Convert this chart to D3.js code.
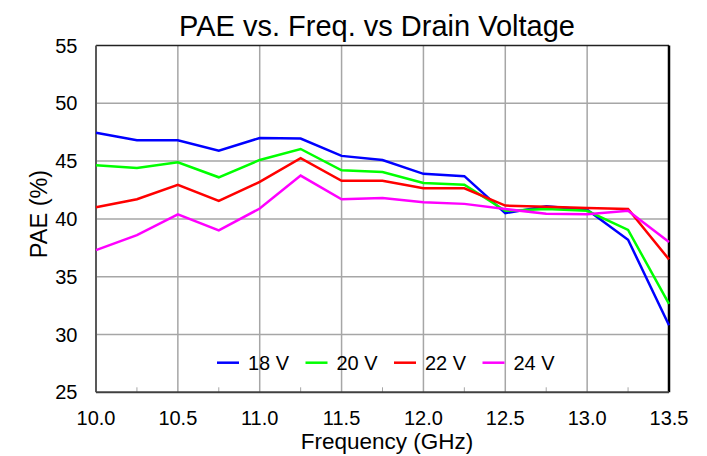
<!DOCTYPE html>
<html lang="en">
<head>
    <meta charset="UTF-8">
    <script src="https://cdn.jsdelivr.net/npm/d3@7"></script>
    <title>PAE vs Freq</title>
    <style>
        body { margin: 0; background: #fff; }
        text { font-family: "Liberation Sans", Arial, sans-serif; fill: #000; }
    </style>
</head>
<body>
<script>
let width = 707
let height = 456
let margin = {top: 45.5, right: 38, bottom: 63.7, left: 96}

// data
let freq = [10.0, 10.25, 10.5, 10.75, 11.0, 11.25, 11.5, 11.75, 12.0, 12.25, 12.5, 12.75, 13.0, 13.25, 13.5]
let v18 = [47.45, 46.8, 46.8, 45.9, 47.0, 46.95, 45.45, 45.1, 43.9, 43.7, 40.5, 41.1, 40.8, 38.2, 30.8]
let v20 = [44.65, 44.4, 44.9, 43.6, 45.1, 46.05, 44.2, 44.05, 43.1, 42.95, 40.7, 40.85, 40.7, 39.05, 32.65]
let v22 = [41.0, 41.7, 42.95, 41.55, 43.2, 45.25, 43.3, 43.3, 42.65, 42.65, 41.15, 41.05, 40.95, 40.85, 36.5]
let v24 = [37.3, 38.6, 40.4, 39.0, 40.9, 43.75, 41.7, 41.8, 41.45, 41.3, 40.85, 40.45, 40.4, 40.7, 38.0]
let seriesNames = ["18 V", "20 V", "22 V", "24 V"]
let seriesColors = ["#0000ff", "#00ff00", "#ff0000", "#ff00ff"]
let xTicks = [10.0, 10.5, 11.0, 11.5, 12.0, 12.5, 13.0, 13.5]
let xMinor = [10.25, 10.75, 11.25, 11.75, 12.25, 12.75, 13.25]
let yTicks = [25, 30, 35, 40, 45, 50, 55]

let series = [v18, v20, v22, v24]

let svg = d3.select("body").append("svg")
    .attr("width", width)
    .attr("height", height)

let x = d3.scaleLinear().domain([10, 13.5]).range([margin.left, width - margin.right])
let y = d3.scaleLinear().domain([25, 55]).range([height - margin.bottom, margin.top])

// grid
svg.append("g").selectAll("line").data(yTicks.slice(1, -1)).join("line")
    .attr("x1", x(10)).attr("x2", x(13.5))
    .attr("y1", d => y(d)).attr("y2", d => y(d))
    .attr("stroke", "#a6a6a6").attr("stroke-width", 1.5)
svg.append("g").selectAll("line").data(xTicks.slice(1, -1)).join("line")
    .attr("y1", y(25)).attr("y2", y(55))
    .attr("x1", d => x(d)).attr("x2", d => x(d))
    .attr("stroke", "#a6a6a6").attr("stroke-width", 1.5)

// minor ticks on bottom axis
svg.append("g").selectAll("line").data(xMinor).join("line")
    .attr("y1", y(25)).attr("y2", y(25) - 5)
    .attr("x1", d => x(d)).attr("x2", d => x(d))
    .attr("stroke", "#a6a6a6").attr("stroke-width", 1)

// frame
svg.append("line").attr("x1", x(10)).attr("x2", x(13.5)).attr("y1", y(55)).attr("y2", y(55))
    .attr("stroke", "#222").attr("stroke-width", 1.5)
svg.append("line").attr("x1", x(13.5)).attr("x2", x(13.5)).attr("y1", y(55)).attr("y2", y(25))
    .attr("stroke", "#000").attr("stroke-width", 2.5)
svg.append("line").attr("x1", x(10)).attr("x2", x(10)).attr("y1", y(55)).attr("y2", y(25))
    .attr("stroke", "#595959").attr("stroke-width", 2)
svg.append("line").attr("x1", x(10)).attr("x2", x(13.5)).attr("y1", y(25)).attr("y2", y(25))
    .attr("stroke", "#404040").attr("stroke-width", 2)

// lines
let line = d3.line().x((d, i) => x(freq[i])).y(d => y(d))
svg.append("g").selectAll("path").data(series).join("path")
    .attr("d", line)
    .attr("fill", "none")
    .attr("stroke", (d, i) => seriesColors[i])
    .attr("stroke-width", 2.5)
    .attr("stroke-linejoin", "miter")

// tick labels
svg.append("g").selectAll("text").data(yTicks).join("text")
    .attr("x", 77.5).attr("y", d => y(d))
    .attr("dy", "0.35em")
    .attr("text-anchor", "end")
    .attr("font-size", 20)
    .text(d => d)
svg.append("g").selectAll("text").data(xTicks).join("text")
    .attr("x", d => x(d)).attr("y", 417.5)
    .attr("dy", "0.35em")
    .attr("text-anchor", "middle")
    .attr("font-size", 20)
    .text(d => d.toFixed(1))

// axis titles
svg.append("text")
    .attr("x", 387).attr("y", 441.5)
    .attr("dy", "0.35em")
    .attr("text-anchor", "middle")
    .attr("font-size", 22.5)
    .text("Frequency (GHz)")
svg.append("text")
    .attr("transform", "translate(39,214) rotate(-90)")
    .attr("dy", "0.35em")
    .attr("text-anchor", "middle")
    .attr("font-size", 23.5)
    .text("PAE (%)")

// title
svg.append("text")
    .attr("x", 377).attr("y", 35.5)
    .attr("text-anchor", "middle")
    .attr("font-size", 29)
    .text("PAE vs. Freq. vs Drain Voltage")

// legend
let legend = svg.append("g").selectAll("g").data(seriesNames).join("g")
    .attr("transform", (d, i) => `translate(${217 + i * 88.5},362.7)`)
legend.append("line").attr("x1", 0).attr("x2", 22)
    .attr("stroke", (d, i) => seriesColors[i]).attr("stroke-width", 2.5)
legend.append("text").attr("x", 31).attr("dy", "0.35em")
    .attr("font-size", 20)
    .text(d => d)
</script>
</body>
</html>
